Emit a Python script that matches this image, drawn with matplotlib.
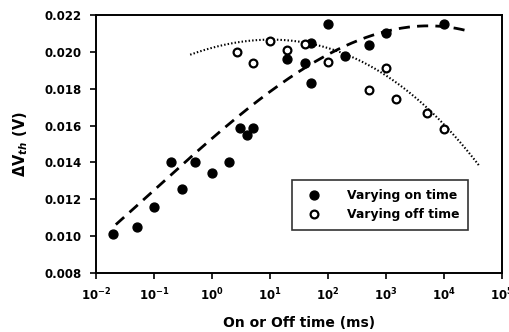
import numpy as np
import matplotlib
matplotlib.use("Agg")
import matplotlib.pyplot as plt

plt.rcParams['font.family'] = ['DejaVu Sans']
plt.rcParams['font.weight'] = 'bold'
plt.rcParams['mathtext.fontset'] = 'custom'
plt.rcParams['mathtext.rm'] = 'DejaVu Sans:bold'
plt.rcParams['mathtext.bf'] = 'DejaVu Sans:bold'
plt.rcParams['mathtext.it'] = 'DejaVu Sans:bold:italic'

# Varying on time (filled)
on_time = [0.02, 0.05, 0.1, 0.2, 0.3, 0.5, 1, 2, 3, 4, 5, 20, 40, 50, 50, 100, 200, 500, 1000, 10000]
on_dvth = [0.0101, 0.0105, 0.01157, 0.0140, 0.01258, 0.0140, 0.01345, 0.0140, 0.01588, 0.01548,
           0.01588, 0.0196, 0.0194, 0.01831, 0.0205, 0.0215, 0.01978, 0.02036, 0.0210, 0.0215]

# Varying off time (open)
off_time = [2.7, 5, 10, 20, 40, 100, 500, 1000, 1500, 5000, 10000]
off_dvth = [0.0200, 0.01942, 0.0206, 0.0201, 0.0204, 0.01945, 0.01792, 0.0191, 0.01743, 0.01669, 0.01584]

# Trend lines, points
dash_x = [0.022, 0.026, 0.35, 3.2, 7.9, 43, 150, 950, 1350, 3900, 9500, 24500]
dash_y = [0.0106, 0.01087, 0.0140, 0.01674, 0.01752, 0.01918, 0.02018, 0.02102, 0.02126, 0.02139, 0.0214, 0.02114]
dot_x = [0.42, 2.7, 10.7, 37, 182, 525, 1585, 5000, 10500, 41700]
dot_y = [0.01994, 0.02036, 0.0206, 0.02048, 0.02005, 0.0196, 0.01819, 0.01674, 0.01584, 0.01394]

x_ticks = [1e-2, 1e-1, 1e0, 1e1, 1e2, 1e3, 1e4, 1e5]
x_labels = [r'$\mathbf{10^{-2}}$', r'$\mathbf{10^{-1}}$', r'$\mathbf{10^{0}}$', r'$\mathbf{10^{1}}$',
            r'$\mathbf{10^{2}}$', r'$\mathbf{10^{3}}$', r'$\mathbf{10^{4}}$', r'$\mathbf{10^{5}}$']
y_ticks = [0.008, 0.010, 0.012, 0.014, 0.016, 0.018, 0.020, 0.022]

fig = plt.figure(figsize=(5.10, 3.32), dpi=100)
ax = fig.add_axes([96/510, 59/332, 406/510, 258/332])

# smooth trend curves through the read points
ld = np.log10(dash_x)
cd = np.polyfit(ld, dash_y, 4)
gd = np.linspace(ld.min(), ld.max(), 200)
ax.plot(10**gd, np.polyval(cd, gd), color='black', lw=2.0, dashes=(4, 2.6))

lo = np.log10(dot_x)
co = np.polyfit(lo, dot_y, 3)
go = np.linspace(lo.min(), lo.max(), 200)
ax.plot(10**go, np.polyval(co, go), color='black', lw=1.5, dashes=(0.7, 1.0))

ax.plot(on_time, on_dvth, 'o', ms=6.4, mfc='black', mec='black', label='Varying on time', zorder=3)
ax.plot(off_time, off_dvth, 'o', ms=5.6, mfc='white', mec='black', mew=1.6, label='Varying off time', zorder=3)

ax.set_xscale('log')
ax.set_xlim(1e-2, 1e5)
ax.set_ylim(0.008, 0.022)
ax.set_xticks(x_ticks)
ax.set_xticklabels(x_labels, fontsize=8.5)
ax.minorticks_off()
ax.set_yticks(y_ticks)
ax.set_yticklabels([f'{v:.3f}' for v in y_ticks], fontsize=8.5)
ax.tick_params(direction='out', length=4, width=1.2)
ax.tick_params(axis='y', pad=6)
ax.tick_params(axis='x', pad=6)
for s in ax.spines.values():
    s.set_linewidth(1.4)

ax.set_xlabel('On or Off time (ms)', fontsize=10, fontweight='bold', labelpad=9)
ax.set_ylabel(r'ΔV$_{th}$ (V)', fontsize=10.5, fontweight='bold', labelpad=11)

leg = ax.legend(loc='lower right', bbox_to_anchor=(0.917, 0.165), fontsize=8.9, frameon=True,
                fancybox=False, edgecolor='black', borderpad=0.75, handletextpad=1.5,
                labelspacing=0.5, handlelength=2.2, borderaxespad=0)
leg.get_frame().set_linewidth(1.2)

fig.savefig('out.png', dpi=100)
